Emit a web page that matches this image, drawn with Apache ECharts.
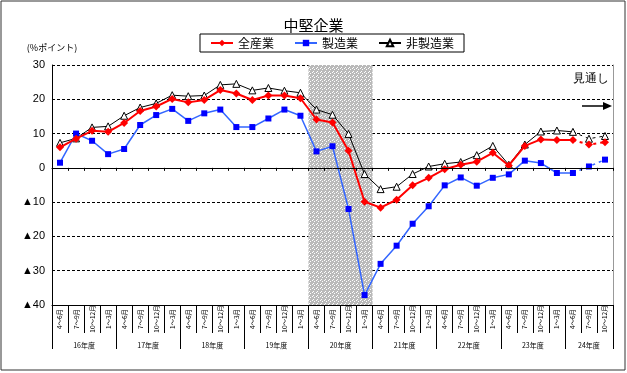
<!DOCTYPE html>
<html>
<head>
<meta charset="utf-8">
<script src="https://cdn.jsdelivr.net/npm/echarts@6/dist/echarts.min.js"></script>
<style>
html,body{margin:0;padding:0;background:#fff;}
#chart{width:627px;height:373px;}
</style>
</head>
<body>
<div id="chart"></div>
<script>
// ---- data ----
const categories = [
  '4～6月','7～9月','10～12月','1～3月',
  '4～6月','7～9月','10～12月','1～3月',
  '4～6月','7～9月','10～12月','1～3月',
  '4～6月','7～9月','10～12月','1～3月',
  '4～6月','7～9月','10～12月','1～3月',
  '4～6月','7～9月','10～12月','1～3月',
  '4～6月','7～9月','10～12月','1～3月',
  '4～6月','7～9月','10～12月','1～3月',
  '4～6月','7～9月','10～12月'
];
const fiscalYears = ['16年度','17年度','18年度','19年度','20年度','21年度','22年度','23年度','24年度'];
const yearBoundaries = [0,4,8,12,16,20,24,28,32,35];
const yearLabelPositions = [2,6,10,14,18,22,26,30,33.5];
const shadedRange = [16, 20];      // 20年度
const forecastStart = 32;          // last actual point; after it = 見通し

const allIndustry = [6.0, 8.5, 10.8, 10.5, 13.1, 16.6, 17.9, 20.1, 19.1, 19.8, 22.7, 21.7, 19.8, 21.1, 21.1, 20.3,
  14.1, 13.2, 5.0, -9.9, -11.6, -9.3, -5.1, -2.9, -0.4, 0.9, 1.8, 4.4, 0.7, 6.4, 8.3, 8.1, 8.1, 6.8, 7.5];
const manufacturing = [1.5, 10.0, 7.9, 4.0, 5.5, 12.5, 15.4, 17.2, 13.7, 15.9, 17.0, 11.9, 11.9, 14.4, 17.0, 15.2,
  4.8, 6.3, -12.0, -37.1, -28.0, -22.7, -16.3, -11.2, -5.1, -2.8, -5.2, -2.9, -1.9, 2.1, 1.4, -1.5, -1.5, 0.4, 2.4];
const nonManufacturing = [7.3, 8.6, 11.8, 12.1, 15.2, 17.6, 18.8, 21.2, 20.9, 21.1, 24.2, 24.5, 22.6, 23.3, 22.5, 21.9,
  17.0, 15.5, 9.9, -1.8, -6.2, -5.5, -1.8, 0.4, 1.2, 1.7, 3.7, 6.4, 0.9, 6.8, 10.6, 10.9, 10.5, 8.5, 9.3];

// ---- styles ----
const jp = '"Noto Sans CJK JP", sans-serif';
const pc = document.createElement('canvas');
pc.width = 4; pc.height = 4;
const pctx = pc.getContext('2d');
pctx.fillStyle = '#bababa'; pctx.fillRect(0,0,4,4);
pctx.fillStyle = '#ffffff';
pctx.fillRect(0,0,1,1); pctx.fillRect(2,1,1,1); pctx.fillRect(1,3,1,1);

const seriesDefs = [
  {name:'非製造業', values:nonManufacturing, line:{color:'#000000', width:1}, symbol:'triangle', size:7,
   item:{color:'#ffffff', borderColor:'#000000', borderWidth:1}, z:3},
  {name:'製造業', values:manufacturing, line:{color:'#3366ff', width:1.5}, symbol:'rect', size:6,
   item:{color:'#0000ff'}, z:4},
  {name:'全産業', values:allIndustry, line:{color:'#ff0000', width:2}, symbol:'diamond', size:8,
   item:{color:'#ff0000'}, z:5}
];

const series = [{
  name:'shade', type:'line', xAxisIndex:2, yAxisIndex:0, data:[], silent:true, z:1,
  markArea:{silent:true, itemStyle:{color:{image:pc, repeat:'repeat'}},
    data:[[{xAxis:shadedRange[0]},{xAxis:shadedRange[1]}]]}
}];
seriesDefs.forEach(d => {
  series.push({
    name:d.name, type:'line', xAxisIndex:0, yAxisIndex:0, z:d.z,
    data:d.values.slice(0, forecastStart + 1),
    symbol:d.symbol, symbolSize:d.size, showAllSymbol:true,
    lineStyle:Object.assign({}, d.line), itemStyle:d.item
  });
  series.push({
    name:d.name, type:'line', xAxisIndex:0, yAxisIndex:0, z:d.z,
    data:d.values.map((v,i) => i < forecastStart ? null : (i === forecastStart ? {value:v, symbol:'none'} : v)),
    symbol:d.symbol, symbolSize:d.size, showAllSymbol:true,
    lineStyle:Object.assign({}, d.line, {type:[3,4]}), itemStyle:d.item
  });
});

const chart = echarts.init(document.getElementById('chart'), null, {renderer:'canvas'});
chart.setOption({
  animation:false,
  backgroundColor:'#ffffff',
  textStyle:{fontFamily:jp, color:'#000'},
  title:{text:'中堅企業', left:'center', top:13,
    textStyle:{fontSize:15, fontWeight:'normal', color:'#000', fontFamily:jp}},
  legend:{data:['全産業','製造業','非製造業'], left:200, top:34, padding:[3,10,3,10],
    borderColor:'#000', borderWidth:1, itemGap:20, itemWidth:22, itemHeight:8,
    textStyle:{fontSize:12, color:'#000', fontFamily:jp}},
  grid:{left:52, right:14, top:65, bottom:68, containLabel:false, outerBoundsMode:'none'},
  xAxis:[
    {type:'category', data:categories, position:'bottom', boundaryGap:true,
     axisLine:{onZero:false, lineStyle:{color:'#000', width:1}},
     axisTick:{show:true, interval:0, length:28, lineStyle:{color:'#000'}},
     axisLabel:{interval:0, rotate:90, align:'center', verticalAlign:'middle', margin:14,
       fontSize:6.5, color:'#000', fontFamily:jp},
     splitLine:{show:false}},
    {type:'category', data:categories, position:'bottom', boundaryGap:true, z:6,
     axisLine:{onZero:true, onZeroAxisIndex:0, lineStyle:{color:'#000', width:1}},
     axisTick:{show:true, interval:0, length:3, lineStyle:{color:'#000'}},
     axisLabel:{show:false}, splitLine:{show:false}},
    {type:'value', min:0, max:35, position:'bottom',
     axisLine:{show:false, onZero:false},
     axisTick:{show:true, customValues:yearBoundaries, length:44, lineStyle:{color:'#000'}},
     axisLabel:{customValues:yearLabelPositions, margin:37, fontSize:7, color:'#000', fontFamily:jp,
       formatter:v => fiscalYears[Math.floor(v / 4)]},
     splitLine:{show:false}}
  ],
  yAxis:[
    {type:'value', min:-40, max:30, interval:10, position:'left',
     name:'(%ポイント)', nameLocation:'end', nameGap:13,
     nameTextStyle:{fontSize:9, color:'#000', fontFamily:jp, align:'center'},
     axisLine:{show:true, onZero:false, lineStyle:{color:'#000', width:1}},
     axisTick:{show:false},
     axisLabel:{fontSize:11, color:'#000', margin:7, fontFamily:'"Liberation Sans", Arial, sans-serif',
       formatter:v => v < 0 ? '▲' + Math.abs(v) : String(v)},
     splitLine:{show:true, lineStyle:{color:'#000', type:[3,2], width:1}}},
    {type:'value', min:-40, max:30, interval:10, position:'right',
     axisLine:{show:true, onZero:false, lineStyle:{color:'#999', width:1}},
     axisTick:{show:false}, axisLabel:{show:false}, splitLine:{show:false}}
  ],
  graphic:[
    {type:'rect', shape:{x:1, y:1, width:624, height:369}, style:{fill:null, stroke:'#333', lineWidth:1}, silent:true},
    {type:'text', left:573, top:73, style:{text:'見通し', fontSize:12, fill:'#000', font:'12px "Noto Sans CJK JP"'}},
    {type:'line', shape:{x1:582, y1:106, x2:604, y2:106}, style:{stroke:'#000', lineWidth:1.5}},
    {type:'polygon', shape:{points:[[603,102],[612,106],[603,110]]}, style:{fill:'#000'}}
  ],
  series:series
});
</script>
</body>
</html>
